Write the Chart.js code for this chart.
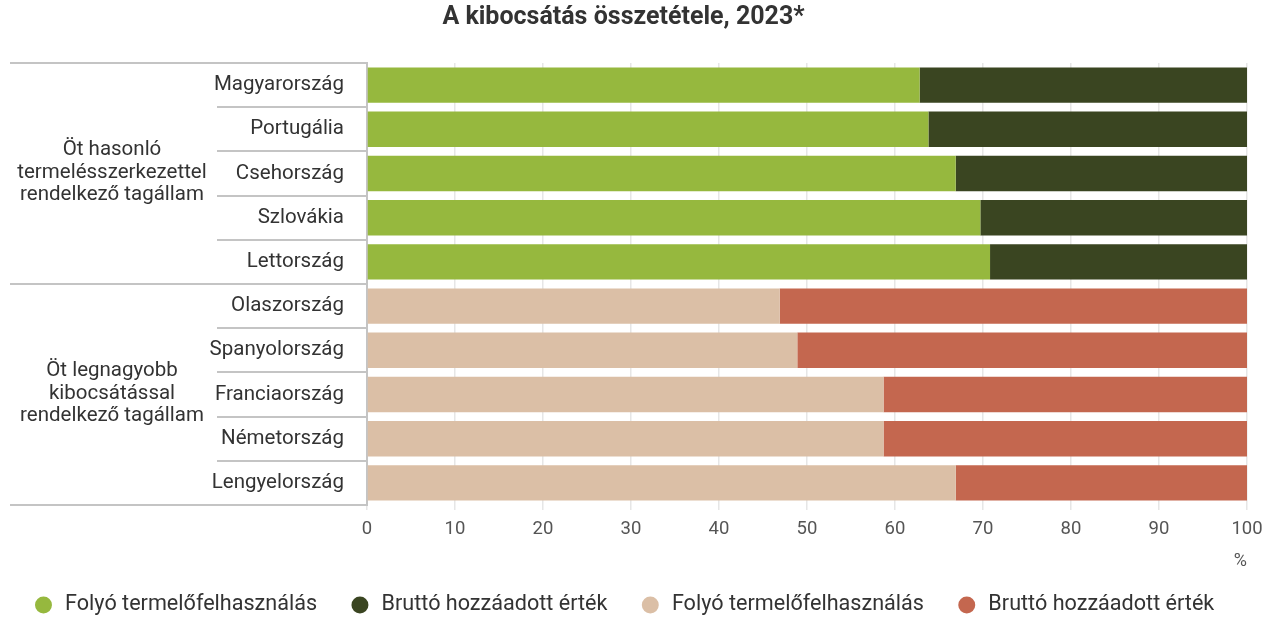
<!DOCTYPE html>
<html>
<head>
<meta charset="utf-8">
<script src="https://cdn.jsdelivr.net/npm/chart.js@4/dist/chart.umd.min.js"></script>
<style>
  html, body { margin: 0; padding: 0; background: #fff; }
  #wrap { width: 1276px; height: 623px; }
</style>
</head>
<body>
<div id="wrap"><canvas id="myChart" width="1276" height="623"></canvas></div>
<script>
    const countries = ['Magyarország', 'Portugália', 'Csehország', 'Szlovákia', 'Lettország',
        'Olaszország', 'Spanyolország', 'Franciaország', 'Németország', 'Lengyelország']

    // group 1: five member states with similar production structure
    const similarFolyo = [62.8, 63.8, 66.9, 69.7, 70.8, null, null, null, null, null]
    const similarBrutto = [37.2, 36.2, 33.1, 30.3, 29.2, null, null, null, null, null]
    // group 2: five largest emitters
    const largestFolyo = [null, null, null, null, null, 46.9, 48.9, 58.7, 58.7, 66.9]
    const largestBrutto = [null, null, null, null, null, 53.1, 51.1, 41.3, 41.3, 33.1]

    const groupLabels = [
        ['Öt hasonló', 'termelésszerkezettel', 'rendelkező tagállam'],
        ['Öt legnagyobb', 'kibocsátással', 'rendelkező tagállam']
    ]
    const xTicks = [0, 10, 20, 30, 40, 50, 60, 70, 80, 90, 100]

    const lineColor = '#c4c4c4'
    const textColor = '#333333'

    // side brackets + group names on the left
    const groupPlugin = {
        id: 'groups',
        afterDraw: function (chart) {
            const ctx = chart.ctx
            const y = chart.scales.y
            const left = chart.chartArea.left
            const step = y.getPixelForValue(1) - y.getPixelForValue(0)
            const boundary = i => y.getPixelForValue(i) - step / 2
            ctx.save()
            ctx.strokeStyle = lineColor
            ctx.lineWidth = 2
            for (let i = 0; i <= countries.length; i++) {
                const by = Math.round(boundary(i))
                const startX = (i % 5 === 0) ? 10 : 217
                ctx.beginPath()
                ctx.moveTo(startX, by)
                ctx.lineTo(left, by)
                ctx.stroke()
            }
            ctx.fillStyle = textColor
            ctx.font = '20.5px Roboto'
            ctx.textAlign = 'center'
            ctx.textBaseline = 'middle'
            groupLabels.forEach((lines, g) => {
                const cy = y.getPixelForValue(g * 5 + 2) - 1
                lines.forEach((line, k) => {
                    ctx.fillText(line, 112, cy + (k - 1) * 22.5)
                })
            })
            ctx.restore()
        }
    }

    const data = {
        labels: countries,
        datasets: [
            { label: 'Folyó termelőfelhasználás', data: similarFolyo, backgroundColor: '#96b83e' },
            { label: 'Bruttó hozzáadott érték', data: similarBrutto, backgroundColor: '#3a4521' },
            { label: 'Folyó termelőfelhasználás', data: largestFolyo, backgroundColor: '#dbbfa6' },
            { label: 'Bruttó hozzáadott érték', data: largestBrutto, backgroundColor: '#c4674f' }
        ]
    }

    const options = {
        indexAxis: 'y',
        responsive: false,
        animation: false,
        maintainAspectRatio: false,
        layout: { padding: { left: 0, right: 29, top: 0, bottom: -2.8 } },
        datasets: { bar: { barPercentage: 0.8, categoryPercentage: 1 } },
        plugins: {
            title: {
                display: true,
                text: 'A kibocsátás összetétele, 2023*',
                color: textColor,
                font: { family: 'Roboto', size: 25, weight: 'bold' },
                padding: { top: 3, bottom: 30 }
            },
            legend: {
                position: 'bottom',
                labels: {
                    usePointStyle: true,
                    pointStyle: 'circle',
                    boxHeight: 12,
                    padding: 32,
                    color: textColor,
                    font: { family: 'Roboto', size: 21.6 }
                }
            },
            tooltip: { enabled: false }
        },
        scales: {
            x: {
                stacked: true,
                min: 0,
                max: 100,
                afterBuildTicks: scale => { scale.ticks = xTicks.map(v => ({ value: v })) },
                grid: { color: '#e6e6e6', tickLength: 5, lineWidth: 1.5 },
                border: { display: false },
                ticks: { color: '#555', padding: 8, font: { family: 'Roboto', size: 18.5 } },
                title: {
                    display: true,
                    text: '%',
                    align: 'end',
                    color: '#555',
                    font: { family: 'Roboto', size: 18 },
                    padding: { top: 2, bottom: -9.6 }
                }
            },
            y: {
                stacked: true,
                afterFit: scale => { scale.width = 367 },
                grid: { display: false },
                border: { display: true, color: lineColor, width: 2 },
                ticks: { color: textColor, padding: 15, font: { family: 'Roboto', size: 20.5 } }
            }
        }
    }

    new Chart(document.getElementById('myChart'), {
        type: 'bar',
        data: data,
        options: options,
        plugins: [groupPlugin]
    })
</script>
</body>
</html>
